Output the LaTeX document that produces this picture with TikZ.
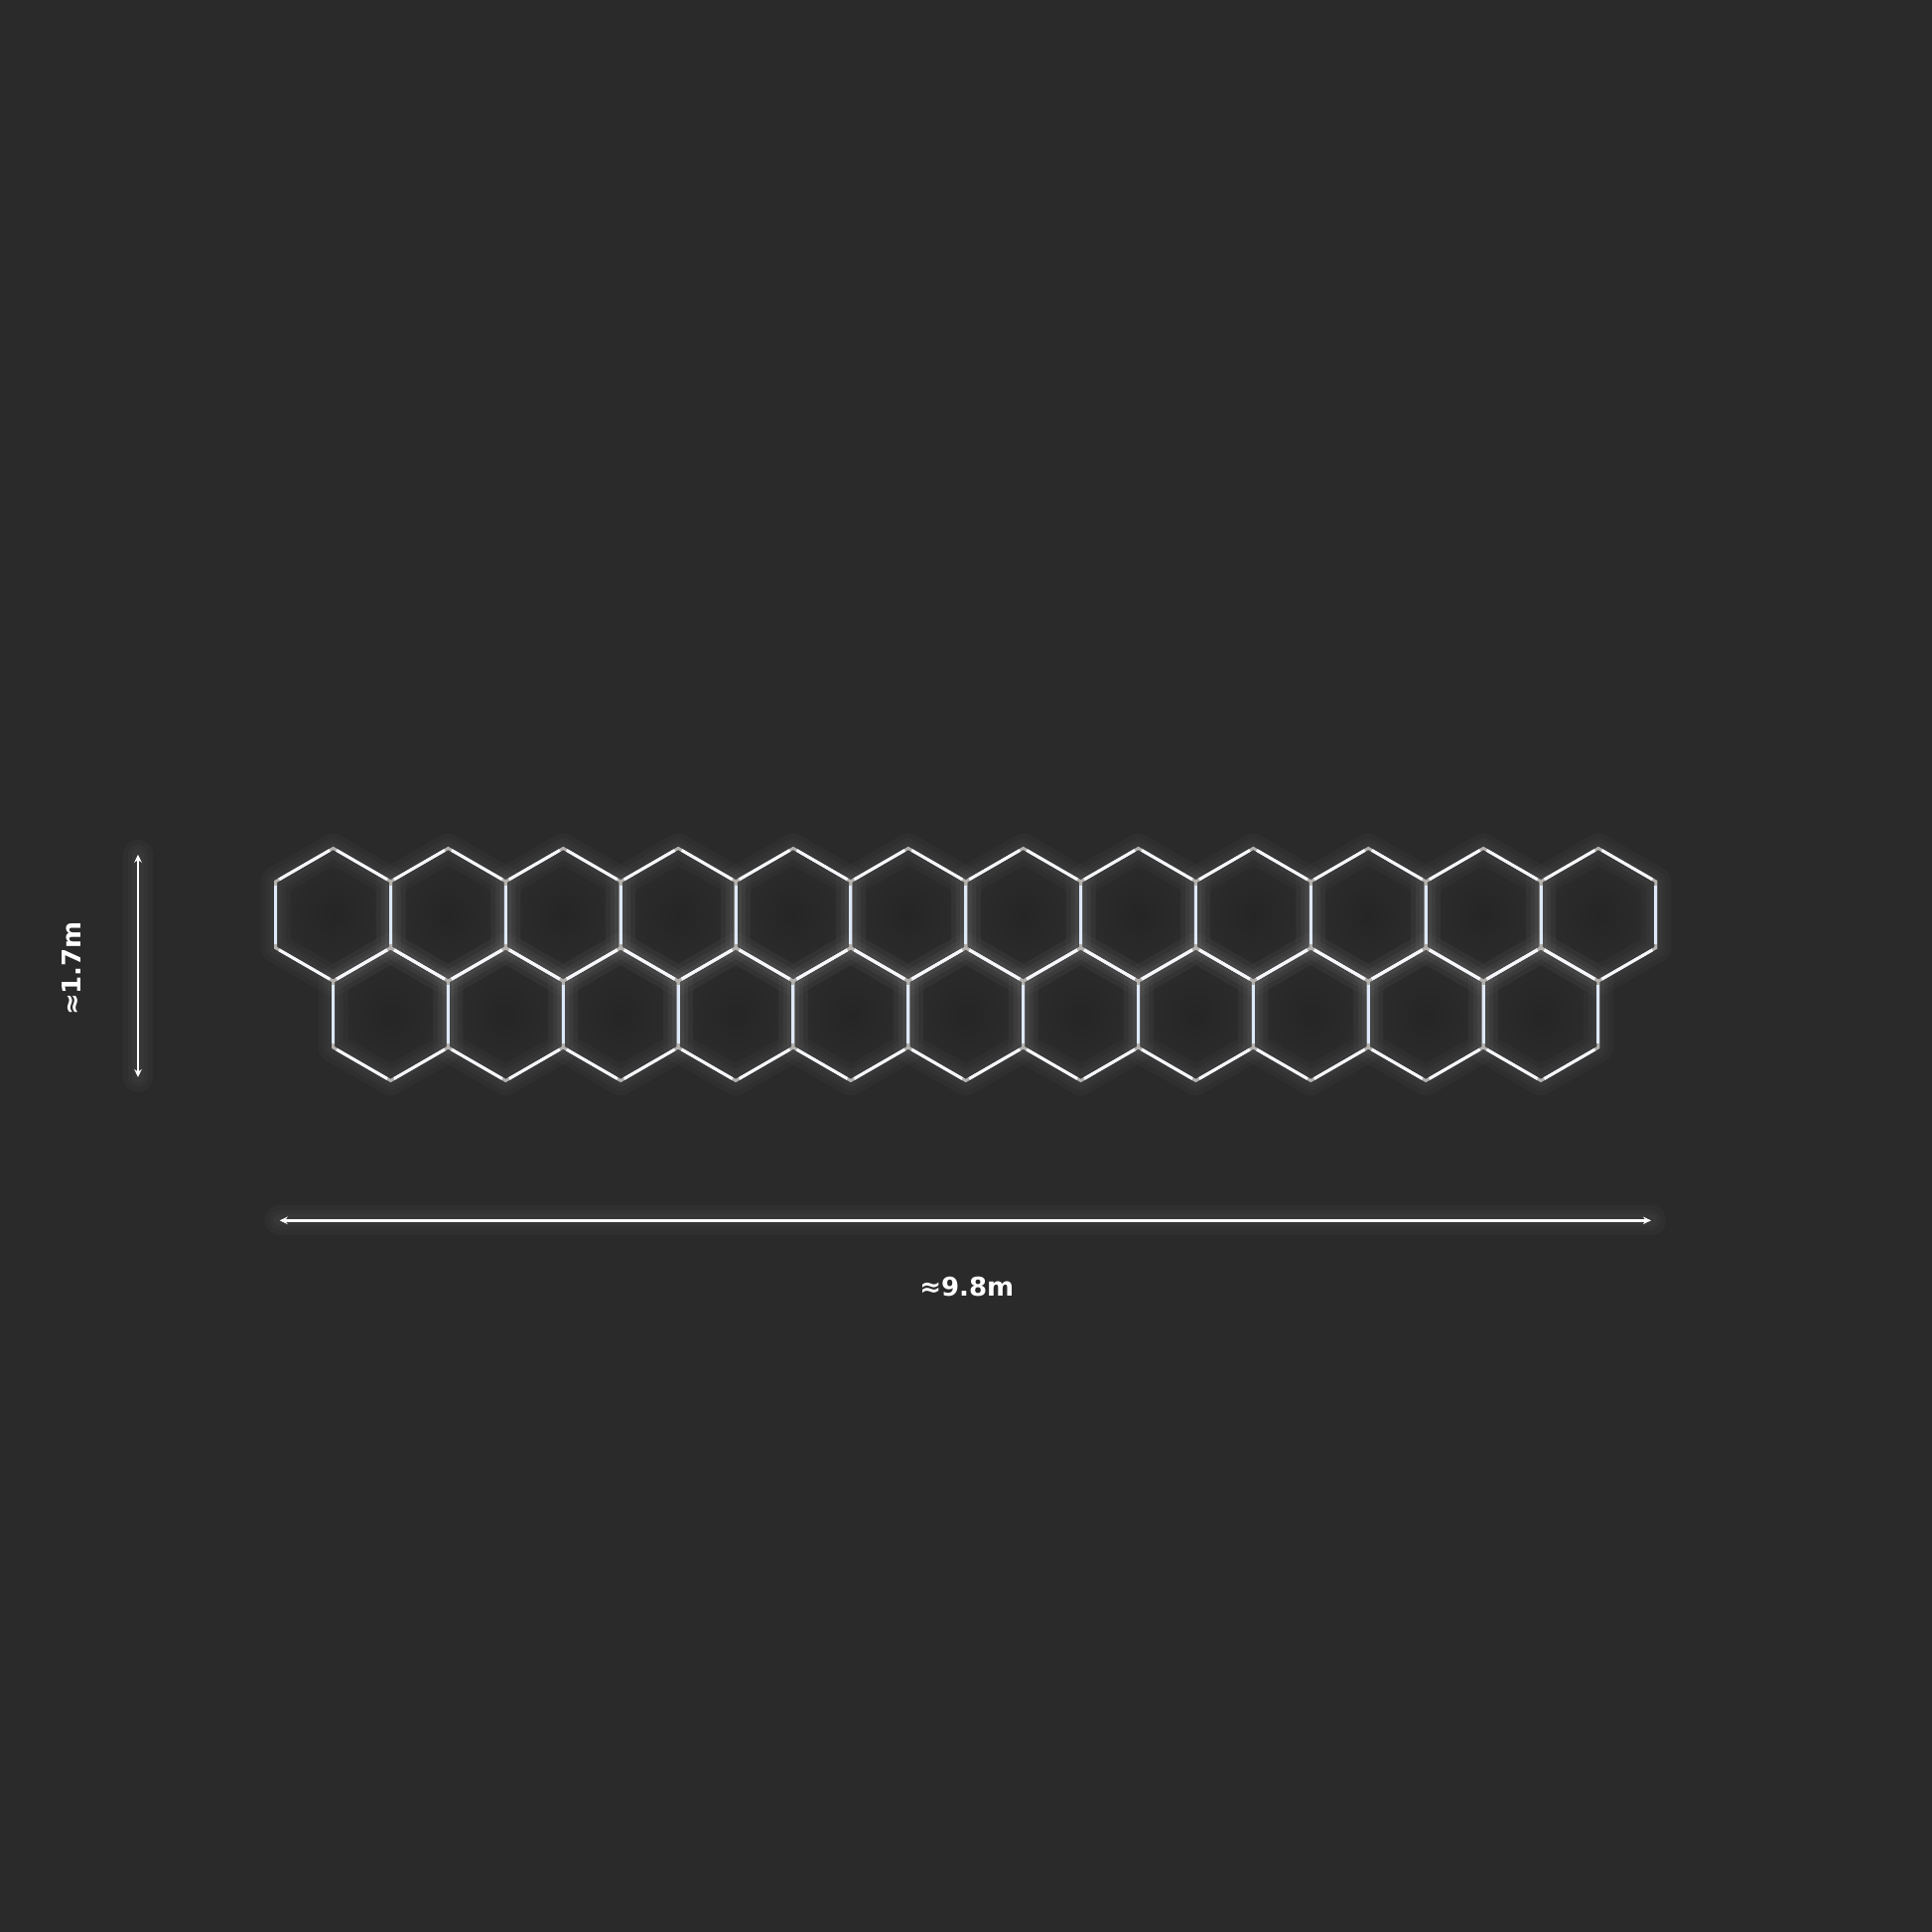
\documentclass[tikz,border=0pt]{standalone}
\usepackage{fontspec}
\setmainfont{DejaVu Sans}
\usetikzlibrary{arrows.meta}
\definecolor{bgdark}{RGB}{42,42,42}
\definecolor{tube}{RGB}{246,248,252}
\definecolor{tubeside}{RGB}{222,233,250}
\definecolor{joint}{RGB}{180,177,174}
\definecolor{hexcore}{RGB}{37,37,37}
\definecolor{hexrim}{RGB}{45,45,46}
\tikzset{
  glow/.style={line width=#1, white, opacity=0.022, line cap=round, line join=round},
  hexline/.style={line width=0.3mm, line cap=butt},
  dimline/.style={line width=0.27mm, white,
    {Stealth[length=0.8mm,width=0.75mm]}-{Stealth[length=0.8mm,width=0.75mm]}},
  dimlabel/.style={text=white, font=\bfseries\fontsize{7.4}{9}\selectfont, inner sep=0pt},
}
\begin{document}
\begin{tikzpicture}[x=0.1mm,y=-0.1mm]
\fill[bgdark] (0,0) rectangle (1946,1946);
% hexagon centres, two rows
\foreach \i in {0,...,11} {
  \coordinate (top\i) at ({335.6+115.85*\i},921.3);
}
\foreach \i in {0,...,10} {
  \coordinate (bot\i) at ({393.5+115.85*\i},1021.6);
}
% dark cores
\foreach \h in {top0,top1,top2,top3,top4,top5,top6,top7,top8,top9,top10,top11,
                bot0,bot1,bot2,bot3,bot4,bot5,bot6,bot7,bot8,bot9,bot10} {
  \shade[inner color=hexcore, outer color=hexrim]
    ([shift={(30:66.9)}]\h) -- ([shift={(90:66.9)}]\h) -- ([shift={(150:66.9)}]\h)
    -- ([shift={(210:66.9)}]\h) -- ([shift={(270:66.9)}]\h) -- ([shift={(330:66.9)}]\h) -- cycle;
}
% glow and tubes
\foreach \h in {top0,top1,top2,top3,top4,top5,top6,top7,top8,top9,top10,top11,
                bot0,bot1,bot2,bot3,bot4,bot5,bot6,bot7,bot8,bot9,bot10} {
  \foreach \w in {3mm,2mm,1.2mm} {
    \draw[glow=\w]
      ([shift={(30:66.9)}]\h) -- ([shift={(90:66.9)}]\h) -- ([shift={(150:66.9)}]\h)
      -- ([shift={(210:66.9)}]\h) -- ([shift={(270:66.9)}]\h) -- ([shift={(330:66.9)}]\h) -- cycle;
  }
}
\foreach \h in {top0,top1,top2,top3,top4,top5,top6,top7,top8,top9,top10,top11,
                bot0,bot1,bot2,bot3,bot4,bot5,bot6,bot7,bot8,bot9,bot10} {
  \draw[hexline, joint]
    ([shift={(30:66.9)}]\h) -- ([shift={(90:66.9)}]\h) -- ([shift={(150:66.9)}]\h)
    -- ([shift={(210:66.9)}]\h) -- ([shift={(270:66.9)}]\h) -- ([shift={(330:66.9)}]\h) -- cycle;
  \foreach \a/\c in {30/tube,90/tube,150/tubeside,210/tube,270/tube,330/tubeside} {
    \draw[hexline, \c, shorten <=0.4mm, shorten >=0.4mm]
      ([shift={(\a:66.9)}]\h) -- ([shift={(\a+60:66.9)}]\h);
  }
}
% dimensions
\coordinate (htop) at (139,860.7);
\coordinate (hbot) at (139,1085);
\coordinate (wleft) at (281.7,1229.3);
\coordinate (wright) at (1663,1229.3);
\foreach \w in {3mm,2mm,1.2mm} {
  \draw[glow=\w] (htop) -- (hbot);
  \draw[glow=\w] (wleft) -- (wright);
}
\draw[dimline] (htop) -- (hbot);
\draw[dimline] (wleft) -- (wright);
\node[dimlabel, rotate=90] (heightlabel) at (72,975.5) {≈1.7m};
\node[dimlabel] (widthlabel) at (973.8,1296.5) {≈9.8m};
\end{tikzpicture}
\end{document}
